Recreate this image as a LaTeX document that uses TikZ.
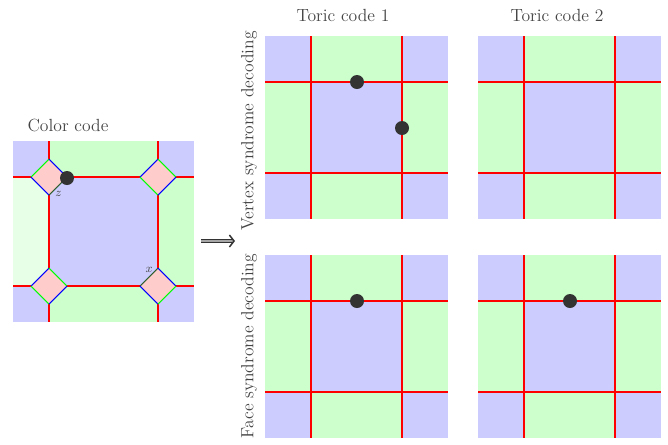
\documentclass[tikz,border=0pt]{standalone}
\usetikzlibrary{arrows.meta}
\definecolor{cblue}{HTML}{CCCCFF}
\definecolor{cgreen}{HTML}{CCFFCC}
\definecolor{clgreen}{HTML}{E6FFE6}
\definecolor{cpink}{HTML}{FFCCCC}
\definecolor{ered}{HTML}{FF0000}
\definecolor{eblue}{HTML}{0000FF}
\definecolor{egreen}{HTML}{00FF00}
\definecolor{edark}{HTML}{2F5F2F}
\definecolor{dotc}{HTML}{333333}
\definecolor{txtc}{HTML}{444444}
\tikzset{
  redline/.style={draw=ered, line width=0.8pt},
  dedge/.style={line width=0.8pt},
  syndot/.style={circle, fill=dotc, inner sep=0pt, minimum size=10.5pt},
  title/.style={text=txtc, font=\fontsize{13.2}{15}\selectfont, inner sep=0pt},
  sidelabel/.style={text=txtc, font=\fontsize{13.2}{15}\selectfont, inner sep=0pt, rotate=90},
  smalllab/.style={text=txtc, font=\fontsize{9}{10}\selectfont, inner sep=0pt}
}
\newcommand\toricpanel[2]{%
  \begin{scope}[shift={(#1,#2)}]
    \fill[cblue] (0,0) rectangle (46,46);
    \fill[cgreen] (46,0) rectangle (137,46);
    \fill[cblue] (137,0) rectangle (183,46);
    \fill[cgreen] (0,46) rectangle (46,137);
    \fill[cblue] (46,46) rectangle (137,137);
    \fill[cgreen] (137,46) rectangle (183,137);
    \fill[cblue] (0,137) rectangle (46,183);
    \fill[cgreen] (46,137) rectangle (137,183);
    \fill[cblue] (137,137) rectangle (183,183);
    \draw[redline] (46,0) -- (46,183);
    \draw[redline] (137,0) -- (137,183);
    \draw[redline] (0,46) -- (183,46);
    \draw[redline] (0,137) -- (183,137);
  \end{scope}}
\newcommand\colordiamond[6]{%
  % #1,#2 centre; #3 LT, #4 TR, #5 LB, #6 RB edge colours
  \fill[cpink] (#1-18,#2) -- (#1,#2-18) -- (#1+18,#2) -- (#1,#2+18) -- cycle;
  \draw[dedge,#3] (#1-18,#2) -- (#1,#2-18);
  \draw[dedge,#4] (#1,#2-18) -- (#1+18,#2);
  \draw[dedge,#5] (#1-18,#2) -- (#1,#2+18);
  \draw[dedge,#6] (#1,#2+18) -- (#1+18,#2);}
\begin{document}
\begin{tikzpicture}[x=0.75pt, y=-0.75pt]
\useasboundingbox (0,0) rectangle (668,444);
% ---------- Color code ----------
\node[title] (cctitle) at (68,125) {Color code};
\fill[cblue] (13,141) rectangle (49,177);
\fill[cgreen] (49,141) rectangle (158,177);
\fill[cblue] (158,141) rectangle (194,177);
\fill[clgreen] (13,177) rectangle (49,286);
\fill[cblue] (49,177) rectangle (158,286);
\fill[cgreen] (158,177) rectangle (194,286);
\fill[cblue] (13,286) rectangle (49,322);
\fill[cgreen] (49,286) rectangle (158,322);
\fill[cblue] (158,286) rectangle (194,322);
\foreach \yy in {177,286} {
  \draw[redline] (13,\yy) -- (31,\yy);
  \draw[redline] (67,\yy) -- (140,\yy);
  \draw[redline] (176,\yy) -- (194,\yy);
}
\foreach \xx in {49,158} {
  \draw[redline] (\xx,141) -- (\xx,159);
  \draw[redline] (\xx,195) -- (\xx,268);
  \draw[redline] (\xx,304) -- (\xx,322);
}
\colordiamond{49}{177}{egreen}{eblue}{eblue}{edark}
\colordiamond{158}{177}{eblue}{egreen}{egreen}{eblue}
\colordiamond{49}{286}{eblue}{egreen}{egreen}{eblue}
\colordiamond{158}{286}{edark}{eblue}{eblue}{egreen}
\node[smalllab] (labz) at (58.5,194) {$z$};
\node[smalllab] (labx) at (149,270) {$x$};
\node[syndot] (ccdot) at (67,178) {};
% ---------- arrow ----------
\coordinate (arrs) at (201,241);
\coordinate (arre) at (235,241);
\draw[double=gray!70, double distance=1.6pt, draw=gray!40!black, line width=0.5pt, -{Straight Barb[length=3.5pt,width=9pt,line width=1.1pt]}] (arrs) -- (arre);
% ---------- Toric codes ----------
\node[title] (t1) at (343,15) {Toric code 1};
\node[title] (t2) at (557,15) {Toric code 2};
\node[sidelabel] (lv) at (249,131) {Vertex syndrome decoding};
\node[sidelabel] (lf) at (249,346) {Face syndrome decoding};
\toricpanel{265}{36}
\toricpanel{478}{36}
\toricpanel{265}{255}
\toricpanel{478}{255}
\node[syndot] (d1) at (357,82) {};
\node[syndot] (d2) at (402,128) {};
\node[syndot] (d3) at (357,301) {};
\node[syndot] (d4) at (570,301) {};
\end{tikzpicture}
\end{document}
